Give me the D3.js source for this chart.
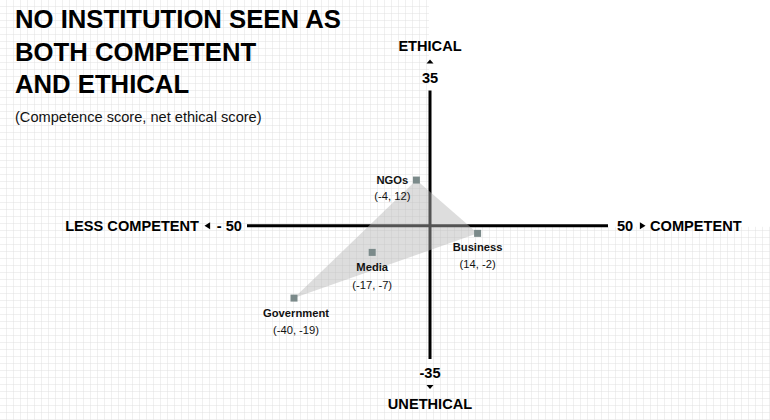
<!DOCTYPE html>
<html>
<head>
<meta charset="utf-8">
<script src="https://cdn.jsdelivr.net/npm/d3@7"></script>
<style>
  html, body { margin: 0; padding: 0; background: #fff; }
  svg { display: block; font-family: "Liberation Sans", Arial, sans-serif; }
  .title { font-size: 25.7px; font-weight: bold; fill: #000; }
  .subtitle { font-size: 14.6px; fill: #111; }
  .axis-label { font-size: 14.6px; font-weight: bold; fill: #000; }
  .pt-name { font-size: 11.2px; font-weight: bold; fill: #111; }
  .pt-value { font-size: 11.2px; fill: #111; }
</style>
</head>
<body>
<svg id="chart"></svg>
<script>
// Data
const institutions = ['NGOs', 'Business', 'Media', 'Government'];
const competence = [-4, 14, -17, -40];
const ethical = [12, -2, -7, -19];
const hull = ['NGOs', 'Business', 'Government'];

const titleLines = ['NO INSTITUTION SEEN AS', 'BOTH COMPETENT', 'AND ETHICAL'];
const subtitle = '(Competence score, net ethical score)';
const xDomain = [-50, 50];
const yDomain = [-35, 35];

// label offsets relative to the marker (layout, not data)
const labelOffset = {
  NGOs: { dx: -24, dy: 4, dy2: 20 },
  Business: { dx: 0, dy: 18, dy2: 35 },
  Media: { dx: 0, dy: 19, dy2: 37 },
  Government: { dx: 2, dy: 19, dy2: 36 }
};

const width = 770, height = 420;
const svg = d3.select('#chart').attr('width', width).attr('height', height);

const x = d3.scaleLinear().domain(xDomain).range([260, 600]);
const y = d3.scaleLinear().domain(yDomain).range([359, 92.5]);
const x0 = x(0), y0 = y(0);

// Background grid, everywhere except the upper right quadrant
const defs = svg.append('defs');
const pat = defs.append('pattern')
  .attr('id', 'grid')
  .attr('width', 7).attr('height', 7)
  .attr('patternUnits', 'userSpaceOnUse');
pat.append('path')
  .attr('d', 'M7,0 V7 M0,7 H7')
  .attr('fill', 'none')
  .attr('stroke', '#e0e0e0')
  .attr('stroke-width', 1);

svg.append('rect')
  .attr('width', width).attr('height', height)
  .attr('fill', 'url(#grid)');
svg.append('rect')
  .attr('x', x0 - 1).attr('y', 0)
  .attr('width', width - x0 + 1).attr('height', y0 + 1)
  .attr('fill', '#fff');

// Title
svg.append('g').selectAll('text')
  .data(titleLines)
  .join('text')
  .attr('class', 'title')
  .attr('x', 15)
  .attr('y', (d, i) => 28 + i * 32.5)
  .text(d => d);

svg.append('text')
  .attr('class', 'subtitle')
  .attr('x', 15).attr('y', 122)
  .text(subtitle);

// Axes (crossing at zero)
const axes = svg.append('g').attr('class', 'axes');
axes.append('line')
  .attr('x1', x(xDomain[0]) - 13).attr('x2', x(xDomain[1]) + 8)
  .attr('y1', y0).attr('y2', y0)
  .attr('stroke', '#000').attr('stroke-width', 3);
axes.append('line')
  .attr('x1', x0).attr('x2', x0)
  .attr('y1', y(yDomain[1]) - 2).attr('y2', y(yDomain[0]))
  .attr('stroke', '#000').attr('stroke-width', 3);

const tri = (cx, cy, dir) => {
  const s = 3.5;
  if (dir === 'left') return `M${cx - s},${cy} L${cx + s * 0.6},${cy - s} L${cx + s * 0.6},${cy + s} Z`;
  if (dir === 'right') return `M${cx + s},${cy} L${cx - s * 0.6},${cy - s} L${cx - s * 0.6},${cy + s} Z`;
  if (dir === 'up') return `M${cx},${cy - s * 0.6} L${cx - s},${cy + s * 0.6} L${cx + s},${cy + s * 0.6} Z`;
  return `M${cx},${cy + s * 0.6} L${cx - s},${cy - s * 0.6} L${cx + s},${cy - s * 0.6} Z`;
};

// left end
const xl = x(xDomain[0]) - 18;
axes.append('text').attr('class', 'axis-label')
  .attr('x', xl).attr('y', y0 + 5).attr('text-anchor', 'end')
  .text('- ' + Math.abs(xDomain[0]));
axes.append('path').attr('d', tri(xl - 34, y0, 'left')).attr('fill', '#000');
axes.append('text').attr('class', 'axis-label')
  .attr('x', xl - 43).attr('y', y0 + 5).attr('text-anchor', 'end')
  .text('LESS COMPETENT');

// right end
const xr = x(xDomain[1]) + 17;
axes.append('text').attr('class', 'axis-label')
  .attr('x', xr).attr('y', y0 + 5)
  .text(xDomain[1]);
axes.append('path').attr('d', tri(xr + 25, y0, 'right')).attr('fill', '#000');
axes.append('text').attr('class', 'axis-label')
  .attr('x', xr + 33).attr('y', y0 + 5)
  .text('COMPETENT');

// top end
const yt = y(yDomain[1]);
axes.append('text').attr('class', 'axis-label')
  .attr('x', x0).attr('y', yt - 10).attr('text-anchor', 'middle')
  .text(yDomain[1]);
axes.append('path').attr('d', tri(x0, yt - 31, 'up')).attr('fill', '#000');
axes.append('text').attr('class', 'axis-label')
  .attr('x', x0).attr('y', yt - 42).attr('text-anchor', 'middle')
  .text('ETHICAL');

// bottom end
const yb = y(yDomain[0]);
axes.append('text').attr('class', 'axis-label')
  .attr('x', x0).attr('y', yb + 19).attr('text-anchor', 'middle')
  .text(yDomain[0]);
axes.append('path').attr('d', tri(x0, yb + 28, 'down')).attr('fill', '#000');
axes.append('text').attr('class', 'axis-label')
  .attr('x', x0).attr('y', yb + 50).attr('text-anchor', 'middle')
  .text('UNETHICAL');

// Points
const points = institutions.map((name, i) => ({ name, cx: competence[i], ey: ethical[i] }));
const byName = new Map(points.map(p => [p.name, p]));

// Shaded triangle
svg.append('path')
  .attr('d', d3.line()(hull.map(n => [x(byName.get(n).cx), y(byName.get(n).ey)])) + 'Z')
  .attr('fill', '#b5b5b5')
  .attr('fill-opacity', 0.46);

const pts = svg.append('g').selectAll('g')
  .data(points)
  .join('g')
  .attr('transform', d => `translate(${x(d.cx)},${y(d.ey)})`);

pts.append('rect')
  .attr('x', -3.5).attr('y', -3.5)
  .attr('width', 7).attr('height', 7)
  .attr('fill', '#7b8a8a');

pts.append('text')
  .attr('class', 'pt-name')
  .attr('text-anchor', 'middle')
  .attr('x', d => labelOffset[d.name].dx)
  .attr('y', d => labelOffset[d.name].dy)
  .text(d => d.name);

pts.append('text')
  .attr('class', 'pt-value')
  .attr('text-anchor', 'middle')
  .attr('x', d => labelOffset[d.name].dx)
  .attr('y', d => labelOffset[d.name].dy2)
  .text(d => `(${d.cx}, ${d.ey})`);
</script>
</body>
</html>
